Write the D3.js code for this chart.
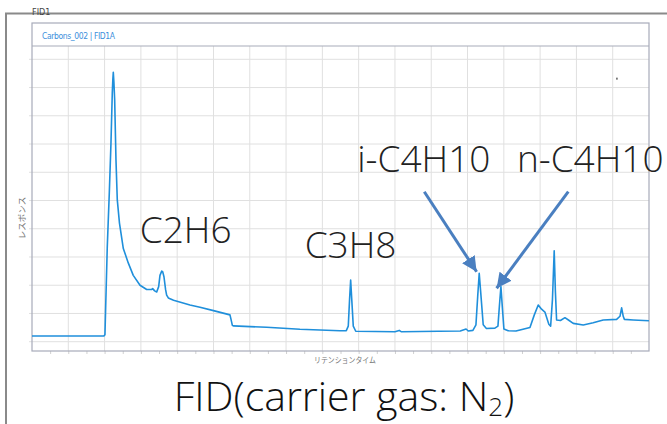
<!DOCTYPE html>
<html>
<head>
<meta charset="utf-8">
<script src="https://cdn.jsdelivr.net/npm/d3@7"></script>
<style>
  body { margin: 0; background: #fff; }
  svg { display: block; }
</style>
</head>
<body>
<div class="stage"></div>
<script>
// chart stage
var width = 667;
var height = 424;

// retention time (min) and detector response
var retentionTime = [0.00, 0.50, 0.99, 1.005, 1.015, 1.037, 1.065, 1.088, 1.106, 1.114, 1.120, 1.128, 1.139,
  1.157, 1.175, 1.205, 1.258, 1.326, 1.395, 1.488, 1.580, 1.649, 1.662, 1.690, 1.718, 1.745, 1.763, 1.787,
  1.800, 1.818, 1.840, 1.855, 1.878, 1.950, 2.176, 2.314, 2.500, 2.727, 2.741, 2.760, 2.773, 3.233, 3.691,
  4.242, 4.330, 4.357, 4.375, 4.390, 4.405, 4.426, 4.460, 5.000, 5.059, 5.090, 5.600, 5.900, 5.980, 6.010,
  6.074, 6.116, 6.140, 6.161, 6.180, 6.216, 6.260, 6.377, 6.419, 6.440, 6.460, 6.480, 6.501, 6.560, 6.667,
  6.860, 6.920, 6.974, 7.020, 7.066, 7.120, 7.145, 7.170, 7.194, 7.210, 7.227, 7.280, 7.342, 7.400, 7.456,
  7.594, 7.731, 7.869, 8.054, 8.100, 8.123, 8.145, 8.161, 8.283, 8.499];
var response = [0.20, 0.20, 0.20, 0.25, 1.24, 3.36, 5.27, 7.04, 8.81, 9.30, 9.54, 9.20, 8.56,
  6.43, 5.02, 4.20, 3.30, 2.79, 2.35, 2.00, 1.85, 1.85, 1.88, 1.80, 1.76, 1.95, 2.35, 2.50,
  2.48, 2.30, 1.85, 1.65, 1.55, 1.47, 1.30, 1.22, 1.10, 0.95, 0.80, 0.58, 0.56, 0.51, 0.44,
  0.39, 0.39, 0.55, 1.50, 2.18, 1.50, 0.55, 0.37, 0.35, 0.40, 0.35, 0.37, 0.38, 0.45, 0.38,
  0.40, 0.60, 1.60, 2.42, 1.80, 0.60, 0.47, 0.48, 0.55, 1.30, 1.95, 1.20, 0.45, 0.39, 0.38,
  0.50, 0.95, 1.30, 1.15, 1.05, 0.62, 0.55, 1.50, 3.22, 1.80, 0.77, 0.75, 0.85, 0.75, 0.65,
  0.59, 0.67, 0.77, 0.79, 0.90, 1.20, 0.90, 0.79, 0.77, 0.74];

// peak annotations
var peakNames = ['C2H6', 'C3H8', 'i-C4H10', 'n-C4H10'];
var peakTimes = [1.787, 4.390, 6.161, 6.460];
var peakHeights = [2.50, 2.18, 2.42, 1.95];

var margin = { left: 32, right: 18, top: 46, bottom: 73 };

var x = d3.scaleLinear().domain([0, 8.5]).range([margin.left, width - margin.right]);
var y = d3.scaleLinear().domain([0, 10]).range([341.7, 59.3]);

var svg = d3.select('.stage')
            .append('svg')
            .attr('width', width)
            .attr('height', height);

// outer window frame
svg.append('path')
  .attr('d', 'M6,' + height + 'V13.5H' + width)
  .attr('fill', 'none')
  .attr('stroke', '#8a8a8a')
  .attr('stroke-width', 2);

svg.append('text')
  .attr('x', 32)
  .attr('y', 15)
  .attr('font-family', 'DejaVu Sans Condensed, DejaVu Sans')
  .attr('font-size', 9)
  .attr('fill', '#444')
  .text('FID1');

var plotBottom = 351;
var plotTop = margin.top;
var right = width - margin.right;

// grid
svg.append('g')
  .selectAll('line')
  .data(d3.range(0.5, 8.5, 0.5))
  .enter()
  .append('line')
  .attr('x1', function(d) { return x(d); })
  .attr('x2', function(d) { return x(d); })
  .attr('y1', plotTop)
  .attr('y2', plotBottom)
  .attr('stroke', '#e0e0e0');

svg.append('g')
  .selectAll('line')
  .data(d3.range(0, 11))
  .enter()
  .append('line')
  .attr('x1', margin.left - 3)
  .attr('x2', right)
  .attr('y1', function(d) { return y(d); })
  .attr('y2', function(d) { return y(d); })
  .attr('stroke', '#e0e0e0');

// minor ticks under the time axis
svg.append('g')
  .attr('transform', 'translate(0,' + plotBottom + ')')
  .call(d3.axisBottom(x).tickValues(d3.range(0.25, 8.5, 0.25)).tickSize(3).tickFormat(''))
  .call(function(g) {
    g.select('.domain').remove();
    g.selectAll('line').attr('stroke', '#d0d0d0');
  });

// panel borders
svg.append('rect')
  .attr('x', margin.left)
  .attr('y', 23)
  .attr('width', right - margin.left)
  .attr('height', plotBottom - 23)
  .attr('fill', 'none')
  .attr('stroke', '#a7abba')
  .attr('stroke-width', 1.2);

svg.append('line')
  .attr('x1', margin.left)
  .attr('x2', right)
  .attr('y1', plotTop)
  .attr('y2', plotTop)
  .attr('stroke', '#a7abba')
  .attr('stroke-width', 1.2);

svg.append('text')
  .attr('x', 42)
  .attr('y', 38.5)
  .attr('font-family', 'DejaVu Sans Condensed, DejaVu Sans')
  .attr('font-size', 8.5)
  .attr('fill', '#3c8fdc')
  .attr('textLength', 73)
  .text('Carbons_002 | FID1A');

// axis titles
svg.append('text')
  .attr('transform', 'translate(25,218) rotate(-90)')
  .attr('text-anchor', 'middle')
  .attr('font-family', 'Noto Sans CJK JP')
  .attr('font-size', 8.5)
  .attr('fill', '#777')
  .text('レスポンス');

svg.append('text')
  .attr('x', 345)
  .attr('y', 363)
  .attr('text-anchor', 'middle')
  .attr('font-family', 'Noto Sans CJK JP')
  .attr('font-size', 8)
  .attr('fill', '#777')
  .attr('textLength', 62)
  .attr('lengthAdjust', 'spacingAndGlyphs')
  .text('リテンションタイム');

// chromatogram trace
var line = d3.line()
  .x(function(d) { return x(d); })
  .y(function(d, i) { return y(response[i]); });

svg.append('path')
  .datum(retentionTime)
  .attr('d', line)
  .attr('fill', 'none')
  .attr('stroke', '#1f8fdb')
  .attr('stroke-width', 1.6)
  .attr('stroke-linejoin', 'round');

// stray pixel in the reference
svg.append('rect')
  .attr('x', x(8.05))
  .attr('y', y(9.35))
  .attr('width', 1.2)
  .attr('height', 2)
  .attr('fill', '#333');

// labels
var labelFont = 'Open Sans, Noto Sans, sans-serif';
var labelDx = [-22, -46, -122, 16];
var labelY = [243, 258, 171.5, 171.5];

svg.selectAll('.peak-label')
  .data(peakNames)
  .enter()
  .append('text')
  .attr('class', 'peak-label')
  .attr('x', function(d, i) { return x(peakTimes[i]) + labelDx[i]; })
  .attr('y', function(d, i) { return labelY[i]; })
  .attr('font-family', labelFont)
  .attr('font-weight', 300)
  .attr('font-size', 37)
  .attr('fill', '#222')
  .text(function(d) { return d; });

// arrows to the butane peaks
svg.append('defs').append('marker')
  .attr('id', 'head')
  .attr('viewBox', '0 0 10 10')
  .attr('refX', 10)
  .attr('refY', 5)
  .attr('markerWidth', 5)
  .attr('markerHeight', 5)
  .attr('orient', 'auto')
  .append('path')
  .attr('d', 'M0,0L10,5L0,10z')
  .attr('fill', '#4a7fc0');

var arrowFrom = [[424.3, 191.7], [568.3, 191.7]];
var arrowTipDx = [-2.6, -4.3];
var arrowTipDy = [-1.6, 1.6];

svg.selectAll('.arrow')
  .data([2, 3])
  .enter()
  .append('line')
  .attr('class', 'arrow')
  .attr('x1', function(d, i) { return arrowFrom[i][0]; })
  .attr('y1', function(d, i) { return arrowFrom[i][1]; })
  .attr('x2', function(d, i) { return x(peakTimes[d]) + arrowTipDx[i]; })
  .attr('y2', function(d, i) { return y(peakHeights[d]) + arrowTipDy[i]; })
  .attr('stroke', '#4a7fc0')
  .attr('stroke-width', 3)
  .attr('marker-end', 'url(#head)');

// big caption
var caption = svg.append('text')
  .attr('x', 344)
  .attr('y', 411)
  .attr('text-anchor', 'middle')
  .attr('font-family', labelFont)
  .attr('font-weight', 300)
  .attr('font-size', 41)
  .attr('fill', '#111');
caption.append('tspan').text('FID(carrier gas: N');
caption.append('tspan').attr('font-size', 26).attr('dy', 5).text('2');
caption.append('tspan').attr('dy', -5).text(')');
</script>
</body>
</html>
